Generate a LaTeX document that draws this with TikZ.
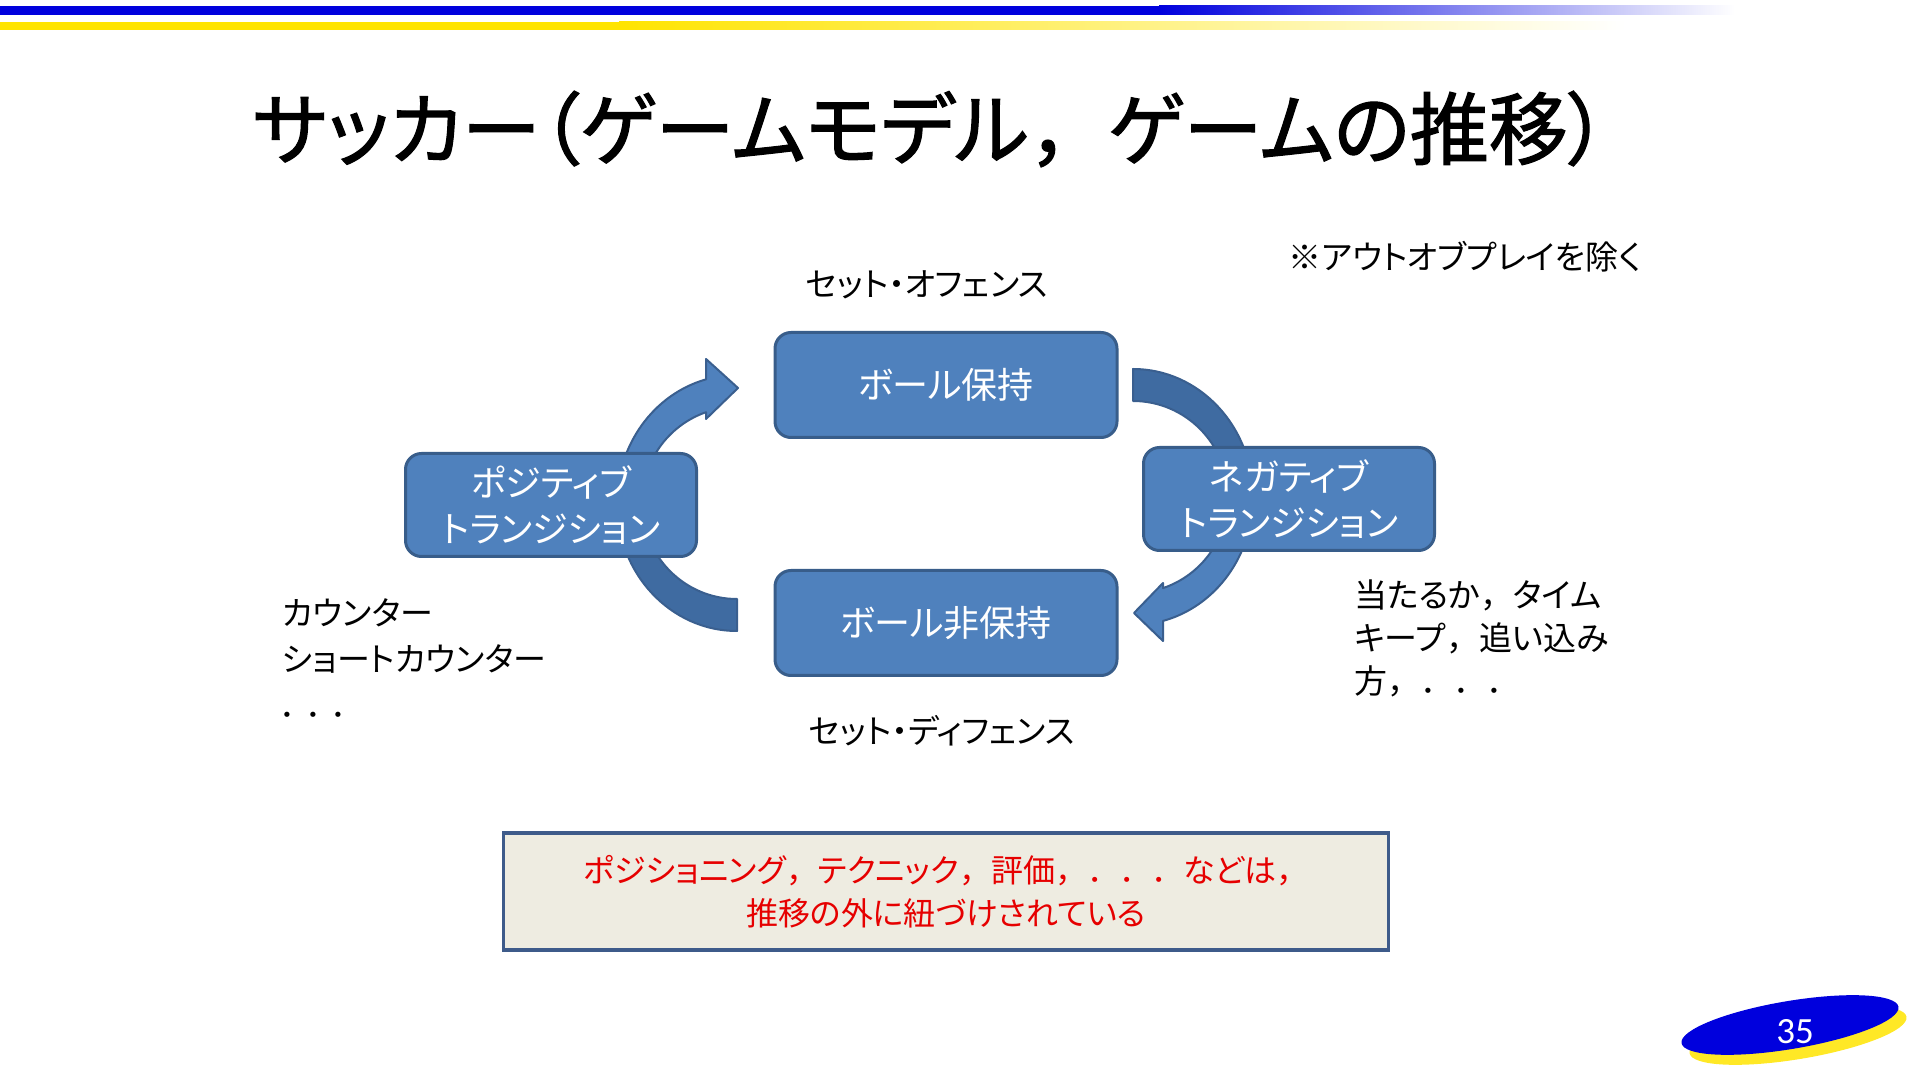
\documentclass[tikz,border=0pt]{standalone}
\usepackage{fontspec}
\setmainfont{Noto Sans CJK JP}[RawFeature=+palt]
\newfontfamily\jpfw{Noto Sans CJK JP}
\newfontfamily\titlefont{Noto Sans CJK JP}[RawFeature=+palt, FakeBold=1.5]
\newfontfamily\titlefw{Noto Sans CJK JP}[FakeBold=1.5]
\newfontfamily\numfont{Carlito}
\newcommand\fwp[1]{{\jpfw #1}}
\definecolor{boxfill}{HTML}{4F81BD}
\definecolor{boxline}{HTML}{385D8A}
\definecolor{arrdark}{HTML}{3F6BA1}
\definecolor{arrline}{HTML}{3A5F8F}
\definecolor{notefill}{HTML}{EEECE1}
\definecolor{noteline}{HTML}{3E5B8A}
\definecolor{barblue}{HTML}{0000DD}
\definecolor{baryellow}{HTML}{FFE400}
\definecolor{notered}{HTML}{E60000}
\tikzset{
  statebox/.style={draw=boxline, line width=3, fill=boxfill, rounded corners=16,
    minimum width=342, minimum height=105, text=white, align=center, inner sep=0,
    font=\fontsize{36}{46}\selectfont},
  transbox/.style={statebox, minimum width=291, minimum height=103},
  label/.style={inner sep=0, font=\fontsize{33}{46}\selectfont, align=left},
  arrlight/.style={fill=boxfill, draw=arrline, line width=2, line join=round},
  arrdarkst/.style={fill=arrdark, draw=arrline, line width=2, line join=round},
}
\begin{document}
\begin{tikzpicture}[x=1pt,y=1pt]
\useasboundingbox (0,0) rectangle (1920,1080);
% top bars
\fill[barblue] (0,1065) rectangle (1160,1074);
\shade[left color=barblue, right color=white] (1159,1065) rectangle (1735,1074);
\fill[baryellow] (0,1050) rectangle (620,1058);
\shade[left color=baryellow, right color=white] (619,1050) rectangle (1625,1058);
% title
\node[inner sep=0] (title) at (930,951) {\titlefont\fontsize{79}{79}\selectfont サッカー（ゲームモデル{\titlefw ，}ゲームの推移）};
% arrows (drawn behind the transition boxes)
\coordinate (cl) at (737,577);
\coordinate (cr) at (1133,583);
\begin{scope}[shift={(cl)}]
  \path[arrdarkst] (-120,0) arc[start angle=180, end angle=270, x radius=120, y radius=128]
    -- (0,-96) arc[start angle=270, end angle=180, x radius=95, y radius=96] -- cycle;
  \path[arrlight] (-120,0) arc[start angle=180, end angle=104.97, x radius=120, y radius=128]
    -- (-31,144) -- (1,115) -- (-31,84) -- (-31,90.8)
    arc[start angle=109.0, end angle=180, x radius=95, y radius=96] -- cycle;
\end{scope}
\begin{scope}[shift={(cr)}]
  \path[arrdarkst] (0,128) arc[start angle=90, end angle=0, x radius=120, y radius=128]
    -- (95,0) arc[start angle=0, end angle=90, x radius=95, y radius=96] -- cycle;
  \path[arrlight] (120,0) arc[start angle=0, end angle=-75.5, x radius=120, y radius=128]
    -- (30,-144) -- (1,-116) -- (30,-86) -- (30,-91.1)
    arc[start angle=-71.6, end angle=0, x radius=95, y radius=96] -- cycle;
\end{scope}
% state boxes
\node[statebox] (hold) at (946,695) {ボール保持};
\node[statebox] (nohold) at (946,457) {ボール非保持};
\node[transbox] (pos) at (551,575) {ポジティブ\\トランジション};
\node[transbox] (neg) at (1289,581) {ネガティブ\\トランジション};
% labels
\node[label] (offense) at (927,795) {セット・オフェンス};
\node[label] (defense) at (942,349) {セット・ディフェンス};
\node[label] (outplay) at (1465,823) {※アウトオブプレイを除く};
\node[label, anchor=north west] (counter) at (282,482) {カウンター\\ショートカウンター\\．\hspace{9pt}．\hspace{9pt}．};
\node[label, anchor=north west, font=\fontsize{33}{43}\selectfont] (press) at (1354,500) {当たるか\fwp{，}タイム\\キープ\fwp{，}追い込み\\方\fwp{，．．．}};
% note box
\node[draw=noteline, line width=3.5, fill=notefill, minimum width=885, minimum height=117,
  inner sep=0, text=notered, align=center, font=\fontsize{32}{43}\selectfont] (bottomnote) at (946,188.5)
  {ポジショニング\fwp{，}テクニック\fwp{，}評価\fwp{，．．．}などは\fwp{，}\\推移の外に紐づけされている};
% page number
\fill[baryellow!85!white, rotate around={9.5:(1798,45)}] (1798,45) ellipse [x radius=110, y radius=24];
\fill[barblue, rotate around={9.5:(1790,55)}] (1790,55) ellipse [x radius=110, y radius=24];
\node[text=white, inner sep=0, font=\numfont\fontsize{37}{37}\selectfont] (pnum) at (1795,48) {35};
\end{tikzpicture}
\end{document}
